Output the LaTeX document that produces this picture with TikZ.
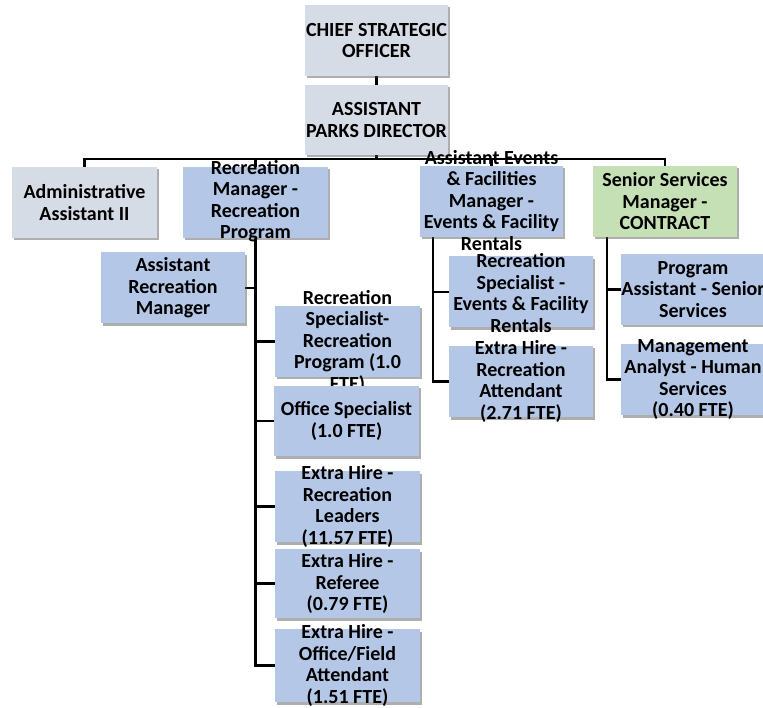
\documentclass[tikz,border=0pt]{standalone}
\usepackage{fontspec}
\setmainfont{Carlito}
\usetikzlibrary{shadows}
\definecolor{boxgrey}{HTML}{D6DCE5}
\definecolor{boxblue}{HTML}{B4C7E7}
\definecolor{boxgreen}{HTML}{C5E0B4}
\pgfdeclarelayer{paper}
\pgfdeclarelayer{lines}
\pgfsetlayers{paper,lines,main}
\tikzset{
  card/.style={minimum width=144pt, minimum height=71pt, inner sep=0pt,
    fill=boxblue, drop shadow={shadow xshift=1.5pt, shadow yshift=-2.5pt, opacity=.45, fill=black!70}},
  greycard/.style={card, fill=boxgrey},
  greencard/.style={card, fill=boxgreen},
  lbl/.style={align=center, inner sep=0pt,
    font=\bfseries\fontsize{20}{21.5}\selectfont},
  conn/.style={draw=black, line width=2.2pt}
}
\begin{document}
\begin{tikzpicture}[x=1pt, y=-1pt]
\useasboundingbox (0,0) rectangle (763,708);
\begin{pgfonlayer}{paper}
\fill[white] (0,0) rectangle (763,708);
\end{pgfonlayer}

% spine and bus helper points
\coordinate (bus) at (0,159);
\coordinate (aefspine) at (433,237);
\coordinate (ssspine) at (607,237);

% ---- boxes with their labels ----
\node[greycard, minimum width=143pt] (cso) at (376.5,40.5) {};
\node[lbl] at (cso.center) {CHIEF STRATEGIC\\OFFICER};
\node[greycard, minimum width=143pt, minimum height=70pt] (apd) at (376.5,120) {};
\node[lbl] at (apd.center) {ASSISTANT\\PARKS DIRECTOR};
\node[greycard, minimum width=145pt] (adm) at (84.5,202.5) {};
\node[lbl] at (adm.center) {Administrative\\Assistant II};
\node[card, minimum width=145pt] (rm) at (255.5,202.5) {};
\node[lbl] at ([yshift=1.5pt]rm.center) {Recreation\\Manager -\\Recreation\\Program};
\node[card, minimum width=143pt] (aef) at (491.5,201.5) {};
\node[lbl] at ([yshift=1pt]aef.center) {Assistant Events\\\& Facilities\\Manager -\\Events \& Facility\\Rentals};
\node[greencard] (ss) at (665,201.5) {};
\node[lbl] at (ss.center) {Senior Services\\Manager -\\CONTRACT};

\node[card] (arm) at (173,288) {};
\node[lbl] at (arm.center) {Assistant\\Recreation\\Manager};
\node[card, minimum width=145pt] (rs) at (347.5,341.5) {};
\node[lbl] at (rs.center) {Recreation\\Specialist-\\Recreation\\Program (1.0\\FTE)};
\node[card, minimum width=145pt, minimum height=70pt] (os) at (346.5,421) {};
\node[lbl] at (os.center) {Office Specialist\\(1.0 FTE)};
\node[card, minimum width=145pt] (ehrl) at (347.5,506.5) {};
\node[lbl] at (ehrl.center) {Extra Hire -\\Recreation\\Leaders\\(11.57 FTE)};
\node[card, minimum width=145pt, minimum height=69pt] (ref) at (347.5,583.5) {};
\node[lbl] at (ref.center) {Extra Hire -\\Referee\\(0.79 FTE)};
\node[card, minimum width=145pt, minimum height=73pt] (ofa) at (347.5,665.5) {};
\node[lbl] at (ofa.center) {Extra Hire -\\Office/Field\\Attendant\\(1.51 FTE)};

\node[card] (rse) at (521,292) {};
\node[lbl] at ([yshift=-1pt]rse.center) {Recreation\\Specialist -\\Events \& Facility\\Rentals};
\node[card] (ehra) at (521,381.5) {};
\node[lbl] at (ehra.center) {Extra Hire -\\Recreation\\Attendant\\(2.71 FTE)};
\node[card] (pa) at (693,289.5) {};
\node[lbl] at (pa.center) {Program\\Assistant - Senior\\Services};
\node[card] (ma) at (693,379.5) {};
\node[lbl] at (ma.center) {Management\\Analyst - Human\\Services\\(0.40 FTE)};

% ---- connectors, kept beneath the boxes ----
\begin{pgfonlayer}{lines}
\draw[conn] (cso.south) -- (apd.north);
\draw[conn] (apd.south) -- (apd.south |- bus);
\draw[conn] (adm.north) -- (adm.north |- bus) -- (ss.north |- bus) -- (ss.north);
\draw[conn] (rm.north |- bus) -- (rm.north);
\draw[conn] (aef.north |- bus) -- (aef.north);

% recreation program spine
\draw[conn] (rm.south) |- (ofa.west);
\draw[conn] (rm.south |- arm.east) -- (arm.east);
\draw[conn] (rm.south |- rs.west) -- (rs.west);
\draw[conn] (rm.south |- os.west) -- (os.west);
\draw[conn] (rm.south |- ehrl.west) -- (ehrl.west);
\draw[conn] (rm.south |- ref.west) -- (ref.west);

% events & facilities spine
\draw[conn] (aefspine) |- (ehra.west);
\draw[conn] (aefspine |- rse.west) -- (rse.west);

% senior services spine
\draw[conn] (ssspine) |- (ma.west);
\draw[conn] (ssspine |- pa.west) -- (pa.west);
\end{pgfonlayer}
\end{tikzpicture}
\end{document}
